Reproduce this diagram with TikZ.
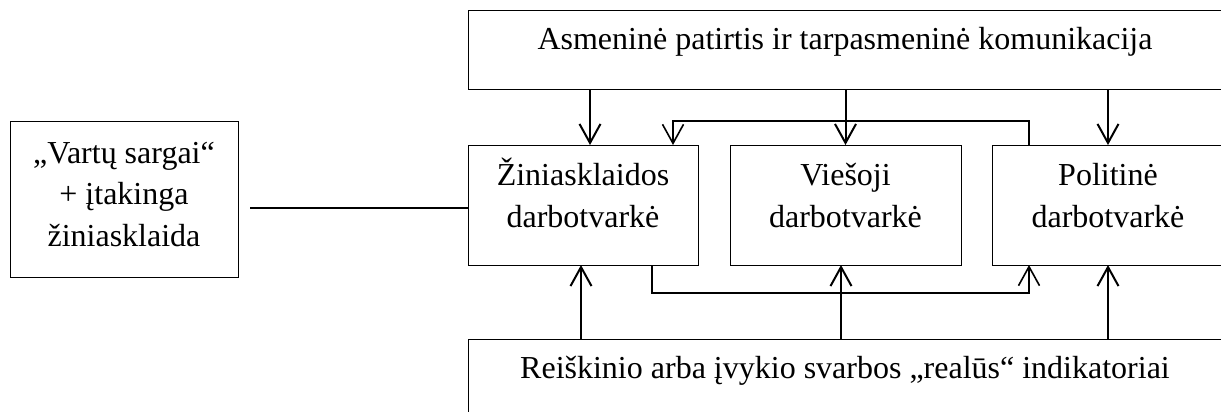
\documentclass[tikz,border=0pt]{standalone}
\usepackage{fontspec}
\setmainfont{Liberation Serif}
\usetikzlibrary{arrows.meta}
\begin{document}
\begin{tikzpicture}[x=1pt,y=-1pt,
  box/.style={draw, line width=1pt, rectangle, inner sep=0pt, outer sep=0pt},
  txt/.style={anchor=base, inner sep=0pt, font=\fontsize{32}{38}\selectfont},
  arr/.style={line width=2pt, -{Straight Barb[length=19pt,width=21pt]}},
  arrb/.style={line width=1.6pt, -{Straight Barb[length=19pt,width=21pt]}},
  conn/.style={line width=2pt}]
\useasboundingbox (0,0) rectangle (1221,412);
% boxes
\node[box, minimum width=755pt, minimum height=78pt] (top) at (845.5,50) {};
\node[box, minimum width=755pt, minimum height=78pt] (bottom) at (845.5,378) {};
\node[box, minimum width=228pt, minimum height=156pt] (lbox) at (124,199) {};
\node[box, minimum width=230pt, minimum height=120pt] (media) at (583,205) {};
\node[box, minimum width=231pt, minimum height=120pt] (public) at (845.5,205) {};
\node[box, minimum width=232pt, minimum height=120pt] (political) at (1108,205) {};
% texts
\node[txt] (tt) at (845,50) {Asmeninė patirtis ir tarpasmeninė komunikacija};
\node[txt] (bt) at (845,378.5) {Reiškinio arba įvykio svarbos „realūs“ indikatoriai};
\node[txt] (l1) at (124,163) {„Vartų sargai“};
\node[txt] (l2) at (124,204.5) {+ įtakinga};
\node[txt] (l3) at (124,246) {žiniasklaida};
\node[txt] (m1) at (583,185) {Žiniasklaidos};
\node[txt] (m2) at (583,227) {darbotvarkė};
\node[txt] (p1) at (845.5,185) {Viešoji};
\node[txt] (p2) at (845.5,227) {darbotvarkė};
\node[txt] (q1) at (1108,185) {Politinė};
\node[txt] (q2) at (1108,227) {darbotvarkė};
% arrows from top box
\draw[arr] ([xshift=7pt]media.north |- top.south) -- ([xshift=7pt]media.north);
\draw[arr] (public.north |- top.south) -- (public.north);
\draw[arr] (political.north |- top.south) -- (political.north);
% arrows from bottom box
\draw[arr] ([xshift=-2pt]media.south |- bottom.north) -- ([xshift=-2pt]media.south);
\draw[arr] ([xshift=-4.5pt]public.south |- bottom.north) -- ([xshift=-4.5pt]public.south);
\draw[arr] (political.south |- bottom.north) -- (political.south);
% feedback political -> media (top)
\draw[arrb] ([xshift=-79pt]political.north) -- ++(0,-24) -| ([xshift=90pt]media.north);
% media -> political (bottom)
\draw[arrb] ([xshift=69pt]media.south) -- ++(0,28) -| ([xshift=-79pt]political.south);
% left connector
\coordinate (lstart) at (250,207.5);
\draw[conn] (lstart) -- (lstart -| media.west);
\end{tikzpicture}
\end{document}
